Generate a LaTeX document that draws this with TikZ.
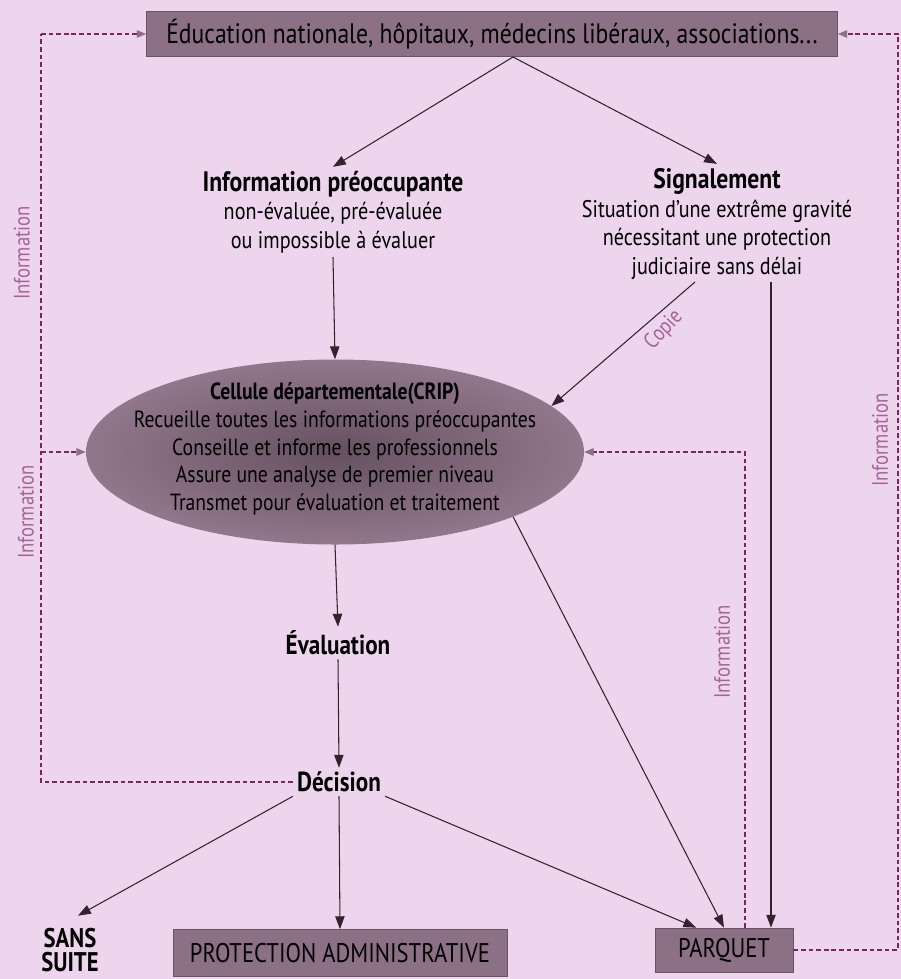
\documentclass[tikz,border=0pt]{standalone}
\usepackage{fontspec}
\setmainfont{PT Sans}[FakeStretch=0.84]
\usetikzlibrary{shapes.geometric,arrows.meta,calc}
\definecolor{fond}{RGB}{238,213,238}
\definecolor{boite}{RGB}{140,112,134}
\definecolor{trait}{RGB}{50,35,46}
\definecolor{pointille}{RGB}{125,35,95}
\definecolor{mauve}{RGB}{165,100,150}
\begin{document}
\begin{tikzpicture}[x=0.03cm, y=-0.03cm,
  darkbox/.style={fill=boite, draw=boite!75!black, line width=0.6pt, inner sep=0pt, font=\fontsize{23}{26}\selectfont},
  fleche/.style={draw=trait, line width=0.9pt, -{Triangle[length=11pt,width=8pt]}},
  tirets/.style={draw=pointille, line width=0.9pt, dash pattern=on 4pt off 2.5pt},
  pointe/.style={-{Triangle[length=8pt,width=6.5pt,color=boite]}},
  infolabel/.style={text=mauve, rotate=90, font=\fontsize{19}{21}\selectfont}]
  \fill[fond] (0,0) rectangle (901,979);
  \useasboundingbox (0,0) rectangle (901,979);
  % boites et textes
  \node[darkbox, minimum width=20.73cm, minimum height=1.35cm, font=\fontsize{24}{26}\selectfont] (acteurs) at (492,34)
    {Éducation nationale, hôpitaux, médecins libéraux, associations...};
  \node[align=center, font=\fontsize{20.5}{24.3}\selectfont] (ip) at (333,212)
    {{\fontsize{24}{24.3}\selectfont\bfseries Information préoccupante}\\non-évaluée, pré-évaluée\\ou impossible à évaluer};
  \node[align=center, font=\fontsize{20.5}{24.7}\selectfont] (signal) at (717,224)
    {{\fontsize{24}{24.7}\selectfont\bfseries Signalement}\\Situation d’une extrême gravité\\nécessitant une protection\\judiciaire sans délai};
  \node[ellipse, shade, inner color=boite!72!black, outer color=boite!95!white,
    minimum width=14.94cm, minimum height=5.55cm, inner sep=0pt] (crip) at (335,452) {};
  \node[align=center, font=\fontsize{20}{23.8}\selectfont] (cripTexte) at ($(crip.center)+(0,-3)$)
    {\textbf{Cellule départementale(CRIP)}\\Recueille toutes les informations préoccupantes\\Conseille et informe les professionnels\\Assure une analyse de premier niveau\\Transmet pour évaluation et traitement};
  \node[font=\fontsize{23.5}{26}\selectfont\bfseries] (eval) at (338,643) {Évaluation};
  \node[font=\fontsize{23.5}{26}\selectfont\bfseries] (dec) at (339,782) {Décision};
  \node[align=center, inner sep=0pt, font=\fontsize{23}{21}\selectfont\bfseries] (sans) at (70,950) {SANS\\SUITE};
  \node[darkbox, minimum width=10.02cm, minimum height=1.41cm] (protect) at (340,953) {PROTECTION ADMINISTRATIVE};
  \node[darkbox, minimum width=4.14cm, minimum height=1.32cm] (parquet) at (724,950) {PARQUET};
  \node[infolabel] (infoA) at (22,253) {Information};
  \node[infolabel] (infoB) at (26,512) {Information};
  \node[infolabel] (infoC) at (880,440) {Information};
  \node[infolabel] (infoD) at (722,652) {Information};
  \node[text=mauve, rotate=47, font=\fontsize{19}{21}\selectfont] (copie) at (664,330) {Copie};
  % points de passage
  \coordinate (sommet) at (513,57);
  \coordinate (gaucheHaut) at (41,34);
  \coordinate (gaucheBas) at (41,782);
  \coordinate (droiteHaut) at (898,34);
  \coordinate (copieDepart) at (695,282);
  \coordinate (signalDepart) at (771,282);
  \coordinate (infoRetour) at (745,928);
  % fleches
  \draw[fleche] (sommet) -- (ip.north);
  \draw[fleche] (sommet) -- (signal.north);
  \draw[fleche] (ip.south) -- (crip.north);
  \draw[fleche] (copieDepart) -- (crip.12);
  \draw[fleche] (signalDepart) -- (signalDepart |- parquet.north);
  \draw[fleche] (crip.-20) -- (parquet.north);
  \draw[fleche] (crip.south) -- (eval.north);
  \draw[fleche] (eval.south) -- (dec.north);
  \draw[fleche] (dec.south west) -- ($(sans.north)+(8,-12)$);
  \draw[fleche] (dec.south) -- (protect.north);
  \draw[fleche] (dec.south east) -- ($(parquet.north west)!0.3!(parquet.north east)$);
  % pointilles
  \draw[tirets] (dec.west) -- (gaucheBas) -- (gaucheHaut);
  \draw[tirets, pointe] (gaucheHaut) -- (acteurs.west);
  \draw[tirets, pointe] (gaucheBas |- crip.west) -- (crip.west);
  \draw[tirets, pointe] (parquet.east) -| (droiteHaut) -- (acteurs.east);
  \draw[tirets, pointe] (infoRetour) |- (crip.east);
\end{tikzpicture}
\end{document}
